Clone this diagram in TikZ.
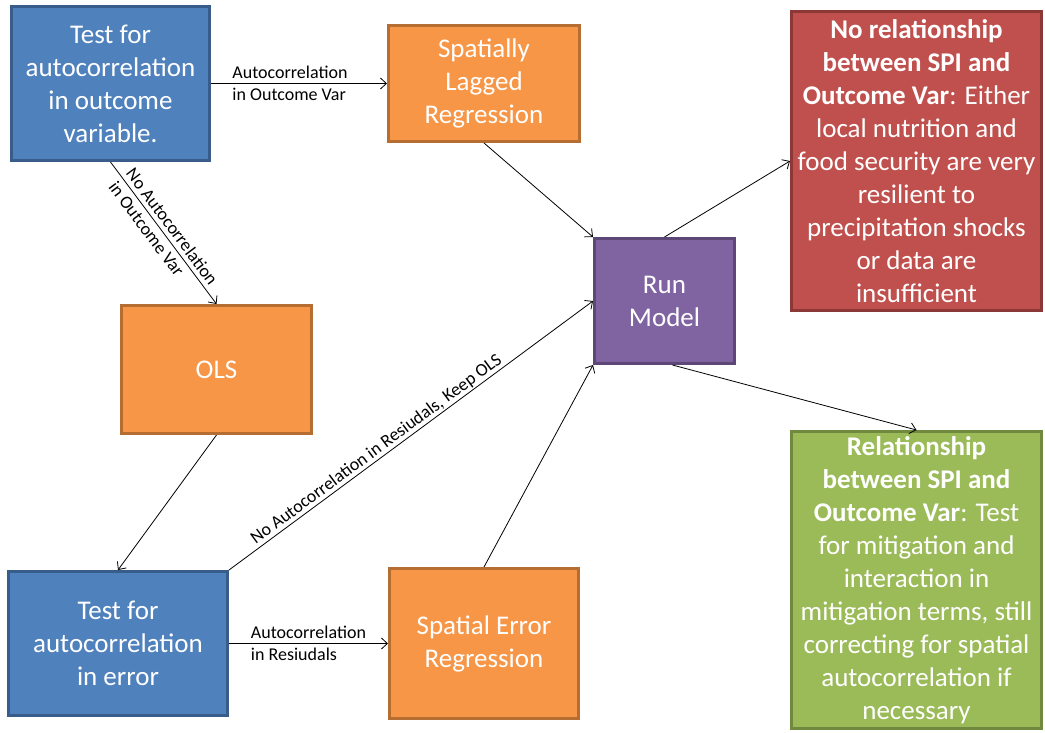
\documentclass[tikz,border=0pt]{standalone}
\usepackage{fontspec}
\setmainfont{Carlito}
\usetikzlibrary{arrows.meta}
\definecolor{bluef}{HTML}{4F81BD}\definecolor{bluel}{HTML}{385D8A}
\definecolor{orf}{HTML}{F79646}\definecolor{orl}{HTML}{B66D31}
\definecolor{redf}{HTML}{C0504D}\definecolor{redl}{HTML}{8C3836}
\definecolor{purf}{HTML}{8064A2}\definecolor{purl}{HTML}{5C4776}
\definecolor{grf}{HTML}{9BBB59}\definecolor{grl}{HTML}{71893F}
\begin{document}
\begin{tikzpicture}[x=1pt,y=-1pt,
  box/.style={draw, line width=3pt, text=white, align=center, inner sep=0pt,
    font=\fontsize{27}{33}\selectfont},
  bluebox/.style={box, fill=bluef, draw=bluel},
  orbox/.style={box, fill=orf, draw=orl},
  lab/.style={font=\fontsize{18}{22}\selectfont, text=black, inner sep=1pt},
  arr/.style={line width=0.8pt, -{Straight Barb[length=6pt,width=11pt]}}]
\useasboundingbox[fill=white] (0,0) rectangle (1045,732);

\node[bluebox, minimum width=198pt, minimum height=154pt] (b1) at (110.5,83.5)
  {Test for\\autocorrelation\\in outcome\\variable.};
\node[orbox, minimum width=191pt, minimum height=116pt] (slr) at (484,83.5)
  {Spatially\\Lagged\\Regression};
\node[orbox, minimum width=190pt, minimum height=128pt] (ols) at (216.5,369.5)
  {OLS};
\node[box, fill=purf, draw=purl, minimum width=140pt, minimum height=125pt] (run) at (664.5,301)
  {Run\\Model};
\node[box, fill=redf, draw=redl, minimum width=250pt, minimum height=299pt] (red) at (916.5,161)
  {\textbf{No relationship}\\\textbf{between SPI and}\\\textbf{Outcome Var}: Either\\local nutrition and\\food security are very\\resilient to\\precipitation shocks\\or data are\\insufficient};
\node[box, fill=grf, draw=grl, minimum width=250pt, minimum height=297pt] (green) at (916.5,580)
  {\textbf{Relationship}\\\textbf{between SPI and}\\\textbf{Outcome Var}: Test\\for mitigation and\\interaction in\\mitigation terms, still\\correcting for spatial\\autocorrelation if\\necessary};
\node[bluebox, minimum width=219pt, minimum height=144pt] (b2) at (118,643.5)
  {Test for\\autocorrelation\\in error};
\node[orbox, minimum width=189pt, minimum height=150pt] (ser) at (484,643.5)
  {Spatial Error\\Regression};

\draw[arr] (b1.east) -- node[lab, align=left, xshift=-9pt] {Autocorrelation\\in Outcome Var} (slr.west);
\draw[arr] (b1.south) -- node[lab, align=left, sloped] {No Autocorrelation\\in Outcome Var} (ols.north);
\draw[arr] (slr.south) -- (run.north west);
\draw[arr] (ols.south) -- (b2.north);
\draw[arr] (b2.north east) -- node[lab, sloped, above, pos=0.42] {No Autocorrelation in Resiudals, Keep OLS} (run.west);
\draw[arr] (ser.north) -- (run.south west);
\draw[arr] (b2.east) -- node[lab, align=left] {Autocorrelation\\in Resiudals} (ser.west);
\draw[arr] (run.north) -- (red.west);
\draw[arr] ([xshift=8pt]run.south) -- (green.north);
\end{tikzpicture}
\end{document}
